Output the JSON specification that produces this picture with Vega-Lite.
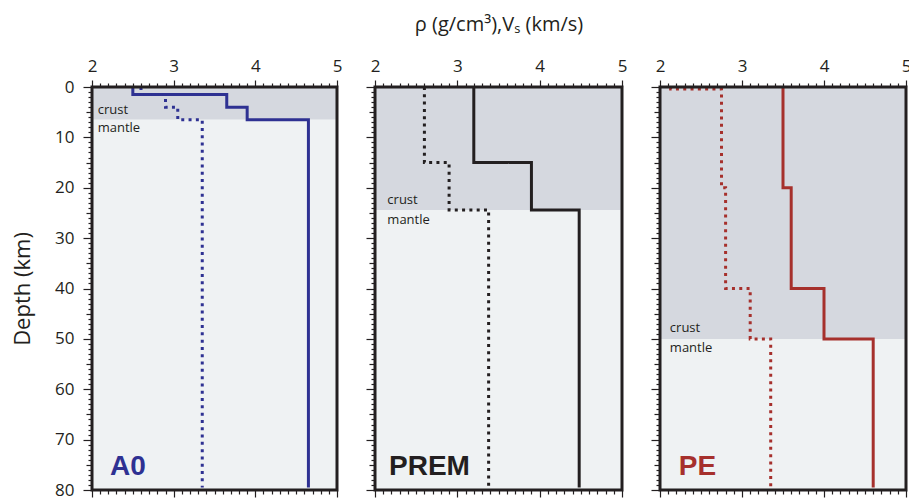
{
  "$schema": "https://vega.github.io/schema/vega-lite/v6.json",
  "background": "white",
  "padding": {"left": 11, "top": 14, "right": 0, "bottom": 8},
  "spacing": 38,
  "bounds": "flush",
  "config": {
    "view": {"stroke": null},
    "axis": {"labelFont": "Open Sans", "titleFont": "Open Sans", "labelColor": "#231f20", "titleColor": "#231f20", "tickColor": "#231f20", "domain": false, "grid": false, "titleFontWeight": "normal"},
    "text": {"font": "Open Sans", "color": "#231f20"}
  },
  "datasets": {
    "bands": [
      {"panel": "A0", "zone": "crust", "top": 0, "bottom": 6.5},
      {"panel": "A0", "zone": "mantle", "top": 6.5, "bottom": 80},
      {"panel": "PREM", "zone": "crust", "top": 0, "bottom": 24.4},
      {"panel": "PREM", "zone": "mantle", "top": 24.4, "bottom": 80},
      {"panel": "PE", "zone": "crust", "top": 0, "bottom": 50},
      {"panel": "PE", "zone": "mantle", "top": 50, "bottom": 80}
    ],
    "frame": [{"box": "frame"}],
    "profiles": [
      {"panel": "A0", "param": "Vs", "i": 0, "v": 2.5, "depth": 0},
      {"panel": "A0", "param": "Vs", "i": 1, "v": 2.5, "depth": 1.5},
      {"panel": "A0", "param": "Vs", "i": 2, "v": 3.65, "depth": 1.5},
      {"panel": "A0", "param": "Vs", "i": 3, "v": 3.65, "depth": 4},
      {"panel": "A0", "param": "Vs", "i": 4, "v": 3.9, "depth": 4},
      {"panel": "A0", "param": "Vs", "i": 5, "v": 3.9, "depth": 6.5},
      {"panel": "A0", "param": "Vs", "i": 6, "v": 4.65, "depth": 6.5},
      {"panel": "A0", "param": "Vs", "i": 7, "v": 4.65, "depth": 79.5},
      {"panel": "A0", "param": "rho", "i": 0, "v": 2.6, "depth": 0},
      {"panel": "A0", "param": "rho", "i": 1, "v": 2.6, "depth": 1.5},
      {"panel": "A0", "param": "rho", "i": 2, "v": 2.9, "depth": 1.5},
      {"panel": "A0", "param": "rho", "i": 3, "v": 2.9, "depth": 4},
      {"panel": "A0", "param": "rho", "i": 4, "v": 3.05, "depth": 4},
      {"panel": "A0", "param": "rho", "i": 5, "v": 3.05, "depth": 6.5},
      {"panel": "A0", "param": "rho", "i": 6, "v": 3.35, "depth": 6.5},
      {"panel": "A0", "param": "rho", "i": 7, "v": 3.35, "depth": 79.5},
      {"panel": "PREM", "param": "Vs", "i": 0, "v": 3.2, "depth": 0},
      {"panel": "PREM", "param": "Vs", "i": 1, "v": 3.2, "depth": 15},
      {"panel": "PREM", "param": "Vs", "i": 2, "v": 3.9, "depth": 15},
      {"panel": "PREM", "param": "Vs", "i": 3, "v": 3.9, "depth": 24.4},
      {"panel": "PREM", "param": "Vs", "i": 4, "v": 4.48, "depth": 24.4},
      {"panel": "PREM", "param": "Vs", "i": 5, "v": 4.48, "depth": 79.5},
      {"panel": "PREM", "param": "rho", "i": 0, "v": 2.6, "depth": 0},
      {"panel": "PREM", "param": "rho", "i": 1, "v": 2.6, "depth": 15},
      {"panel": "PREM", "param": "rho", "i": 2, "v": 2.9, "depth": 15},
      {"panel": "PREM", "param": "rho", "i": 3, "v": 2.9, "depth": 24.4},
      {"panel": "PREM", "param": "rho", "i": 4, "v": 3.38, "depth": 24.4},
      {"panel": "PREM", "param": "rho", "i": 5, "v": 3.38, "depth": 79.5},
      {"panel": "PE", "param": "Vs", "i": 0, "v": 3.5, "depth": 0},
      {"panel": "PE", "param": "Vs", "i": 1, "v": 3.5, "depth": 20},
      {"panel": "PE", "param": "Vs", "i": 2, "v": 3.6, "depth": 20},
      {"panel": "PE", "param": "Vs", "i": 3, "v": 3.6, "depth": 40},
      {"panel": "PE", "param": "Vs", "i": 4, "v": 4.0, "depth": 40},
      {"panel": "PE", "param": "Vs", "i": 5, "v": 4.0, "depth": 50},
      {"panel": "PE", "param": "Vs", "i": 6, "v": 4.6, "depth": 50},
      {"panel": "PE", "param": "Vs", "i": 7, "v": 4.6, "depth": 79.5},
      {"panel": "PE", "param": "rho", "i": 0, "v": 2.13, "depth": 0},
      {"panel": "PE", "param": "rho", "i": 1, "v": 2.13, "depth": 0.4},
      {"panel": "PE", "param": "rho", "i": 2, "v": 2.75, "depth": 0.4},
      {"panel": "PE", "param": "rho", "i": 3, "v": 2.75, "depth": 20},
      {"panel": "PE", "param": "rho", "i": 4, "v": 2.8, "depth": 20},
      {"panel": "PE", "param": "rho", "i": 5, "v": 2.8, "depth": 40},
      {"panel": "PE", "param": "rho", "i": 6, "v": 3.1, "depth": 40},
      {"panel": "PE", "param": "rho", "i": 7, "v": 3.1, "depth": 50},
      {"panel": "PE", "param": "rho", "i": 8, "v": 3.35, "depth": 50},
      {"panel": "PE", "param": "rho", "i": 9, "v": 3.35, "depth": 79.5}
    ],
    "labels": [
      {"panel": "A0", "kind": "zone", "text": "crust", "v": 2.07, "depth": 5.3},
      {"panel": "A0", "kind": "zone", "text": "mantle", "v": 2.07, "depth": 8.9},
      {"panel": "A0", "kind": "name", "text": "A0", "v": 2.22, "depth": 77},
      {"panel": "PREM", "kind": "zone", "text": "crust", "v": 2.15, "depth": 23.3},
      {"panel": "PREM", "kind": "zone", "text": "mantle", "v": 2.15, "depth": 27.2},
      {"panel": "PREM", "kind": "name", "text": "PREM", "v": 2.17, "depth": 77},
      {"panel": "PE", "kind": "zone", "text": "crust", "v": 2.12, "depth": 48.6},
      {"panel": "PE", "kind": "zone", "text": "mantle", "v": 2.12, "depth": 52.6},
      {"panel": "PE", "kind": "name", "text": "PE", "v": 2.23, "depth": 77}
    ]
  },
  "hconcat": [
    {
      "width": 245, "height": 403,
      "resolve": {"axis": {"x": "independent", "y": "independent"}},
      "layer": [
        {
          "data": {"name": "bands"},
          "transform": [{"filter": "datum.panel === 'A0'"}],
          "mark": {"type": "rect"},
          "encoding": {
            "x": {"datum": 2, "type": "quantitative", "scale": {"domain": [2, 5]}, "axis": {"orient": "top", "values": [2,2.1,2.2,2.3,2.4,2.5,2.6,2.7,2.8,2.9,3,3.1,3.2,3.3,3.4,3.5,3.6,3.7,3.8,3.9,4,4.1,4.2,4.3,4.4,4.5,4.6,4.7,4.8,4.9,5], "labelExpr": "datum.value % 1 === 0 ? format(datum.value, 'd') : ''", "labelFlush": false, "labelOverlap": false, "labelFontSize": 17, "labelPadding": 5, "tickSize": {"condition": {"test": "datum.value % 1 === 0", "value": 7}, "value": 4}, "tickWidth": 1.2, "title": null}},
            "x2": {"datum": 5},
            "y": {"field": "top", "type": "quantitative", "scale": {"domain": [0, 80], "reverse": true}, "axis": {"orient": "left", "values": [0,1,2,3,4,5,6,7,8,9,10,11,12,13,14,15,16,17,18,19,20,21,22,23,24,25,26,27,28,29,30,31,32,33,34,35,36,37,38,39,40,41,42,43,44,45,46,47,48,49,50,51,52,53,54,55,56,57,58,59,60,61,62,63,64,65,66,67,68,69,70,71,72,73,74,75,76,77,78,79,80], "labelExpr": "datum.value % 10 === 0 ? format(datum.value, 'd') : ''", "labelOverlap": false, "labelFlush": false, "labelFontSize": 17, "labelPadding": 9, "tickSize": {"expr": "datum.value % 10 === 0 ? 9 : (datum.value % 5 === 0 ? 6 : 4)"}, "tickWidth": 1.2, "title": "Depth (km)", "titleFontSize": 22, "titlePadding": 20}},
            "y2": {"field": "bottom"},
            "fill": {"field": "zone", "type": "nominal", "scale": {"domain": ["crust", "mantle"], "range": ["#d5d8df", "#eff2f3"]}, "legend": null}
          }
        },
        {
          "data": {"name": "profiles"},
          "transform": [{"filter": "datum.panel === 'A0'"}],
          "mark": {"type": "line", "stroke": "#2e3192", "strokeWidth": 3, "strokeJoin": "miter", "strokeCap": "butt"},
          "encoding": {
            "x": {"field": "v", "type": "quantitative", "scale": {"domain": [2, 5]}, "axis": {"orient": "bottom", "values": [2,2.1,2.2,2.3,2.4,2.5,2.6,2.7,2.8,2.9,3,3.1,3.2,3.3,3.4,3.5,3.6,3.7,3.8,3.9,4,4.1,4.2,4.3,4.4,4.5,4.6,4.7,4.8,4.9,5], "labels": false, "tickSize": {"condition": {"test": "datum.value % 1 === 0", "value": 7}, "value": 4}, "tickWidth": 1.2, "title": null}},
            "y": {"field": "depth", "type": "quantitative", "scale": {"domain": [0, 80], "reverse": true}, "axis": null},
            "order": {"field": "i", "type": "quantitative"},
            "strokeDash": {"field": "param", "type": "nominal", "scale": {"domain": ["Vs", "rho"], "range": [[1, 0], [3, 4.3]]}, "legend": null}
          }
        },
        {
          "data": {"name": "labels"},
          "transform": [{"filter": "datum.panel === 'A0' && datum.kind === 'zone'"}],
          "mark": {"type": "text", "align": "left", "baseline": "alphabetic", "fontSize": 13, "color": "#231f20"},
          "encoding": {
            "x": {"field": "v", "type": "quantitative", "axis": null},
            "y": {"field": "depth", "type": "quantitative", "axis": null},
            "text": {"field": "text"}
          }
        },
        {
          "data": {"name": "labels"},
          "transform": [{"filter": "datum.panel === 'A0' && datum.kind === 'name'"}],
          "mark": {"type": "text", "align": "left", "baseline": "alphabetic", "fontSize": 28, "fontWeight": "bold", "font": "Liberation Sans", "color": "#2e3192"},
          "encoding": {
            "x": {"field": "v", "type": "quantitative", "axis": null},
            "y": {"field": "depth", "type": "quantitative", "axis": null},
            "text": {"field": "text"}
          }
        },
        {
          "data": {"name": "frame"},
          "mark": {"type": "rect", "fill": null, "stroke": "#231f20", "strokeWidth": 3},
          "encoding": {
            "x": {"datum": 2, "type": "quantitative", "axis": null},
            "x2": {"datum": 5},
            "y": {"datum": 0, "type": "quantitative", "axis": null},
            "y2": {"datum": 80}
          }
        }
      ]
    },
    {
      "width": 247, "height": 403,
      "resolve": {"axis": {"x": "independent", "y": "independent"}},
      "layer": [
        {
          "data": {"name": "bands"},
          "transform": [{"filter": "datum.panel === 'PREM'"}],
          "mark": {"type": "rect"},
          "encoding": {
            "x": {"datum": 2, "type": "quantitative", "scale": {"domain": [2, 5]}, "axis": {"orient": "top", "values": [2,2.1,2.2,2.3,2.4,2.5,2.6,2.7,2.8,2.9,3,3.1,3.2,3.3,3.4,3.5,3.6,3.7,3.8,3.9,4,4.1,4.2,4.3,4.4,4.5,4.6,4.7,4.8,4.9,5], "labelExpr": "datum.value % 1 === 0 ? format(datum.value, 'd') : ''", "labelFlush": false, "labelOverlap": false, "labelFontSize": 17, "labelPadding": 5, "tickSize": {"condition": {"test": "datum.value % 1 === 0", "value": 7}, "value": 4}, "tickWidth": 1.2, "title": "ρ (g/cm³),Vₛ (km/s)", "titleFontSize": 20, "titlePadding": 23}},
            "x2": {"datum": 5},
            "y": {"field": "top", "type": "quantitative", "scale": {"domain": [0, 80], "reverse": true}, "axis": {"orient": "left", "values": [0,1,2,3,4,5,6,7,8,9,10,11,12,13,14,15,16,17,18,19,20,21,22,23,24,25,26,27,28,29,30,31,32,33,34,35,36,37,38,39,40,41,42,43,44,45,46,47,48,49,50,51,52,53,54,55,56,57,58,59,60,61,62,63,64,65,66,67,68,69,70,71,72,73,74,75,76,77,78,79,80], "labels": false, "tickSize": {"expr": "datum.value % 10 === 0 ? 9 : (datum.value % 5 === 0 ? 6 : 4)"}, "tickWidth": 1.2, "title": null}},
            "y2": {"field": "bottom"},
            "fill": {"field": "zone", "type": "nominal", "scale": {"domain": ["crust", "mantle"], "range": ["#d5d8df", "#eff2f3"]}, "legend": null}
          }
        },
        {
          "data": {"name": "profiles"},
          "transform": [{"filter": "datum.panel === 'PREM'"}],
          "mark": {"type": "line", "stroke": "#231f20", "strokeWidth": 3, "strokeJoin": "miter", "strokeCap": "butt"},
          "encoding": {
            "x": {"field": "v", "type": "quantitative", "scale": {"domain": [2, 5]}, "axis": {"orient": "bottom", "values": [2,2.1,2.2,2.3,2.4,2.5,2.6,2.7,2.8,2.9,3,3.1,3.2,3.3,3.4,3.5,3.6,3.7,3.8,3.9,4,4.1,4.2,4.3,4.4,4.5,4.6,4.7,4.8,4.9,5], "labels": false, "tickSize": {"condition": {"test": "datum.value % 1 === 0", "value": 7}, "value": 4}, "tickWidth": 1.2, "title": null}},
            "y": {"field": "depth", "type": "quantitative", "scale": {"domain": [0, 80], "reverse": true}, "axis": null},
            "order": {"field": "i", "type": "quantitative"},
            "strokeDash": {"field": "param", "type": "nominal", "scale": {"domain": ["Vs", "rho"], "range": [[1, 0], [3, 4.3]]}, "legend": null}
          }
        },
        {
          "data": {"name": "labels"},
          "transform": [{"filter": "datum.panel === 'PREM' && datum.kind === 'zone'"}],
          "mark": {"type": "text", "align": "left", "baseline": "alphabetic", "fontSize": 13, "color": "#231f20"},
          "encoding": {
            "x": {"field": "v", "type": "quantitative", "axis": null},
            "y": {"field": "depth", "type": "quantitative", "axis": null},
            "text": {"field": "text"}
          }
        },
        {
          "data": {"name": "labels"},
          "transform": [{"filter": "datum.panel === 'PREM' && datum.kind === 'name'"}],
          "mark": {"type": "text", "align": "left", "baseline": "alphabetic", "fontSize": 28, "fontWeight": "bold", "font": "Liberation Sans", "color": "#231f20"},
          "encoding": {
            "x": {"field": "v", "type": "quantitative", "axis": null},
            "y": {"field": "depth", "type": "quantitative", "axis": null},
            "text": {"field": "text"}
          }
        },
        {
          "data": {"name": "frame"},
          "mark": {"type": "rect", "fill": null, "stroke": "#231f20", "strokeWidth": 3},
          "encoding": {
            "x": {"datum": 2, "type": "quantitative", "axis": null},
            "x2": {"datum": 5},
            "y": {"datum": 0, "type": "quantitative", "axis": null},
            "y2": {"datum": 80}
          }
        }
      ]
    },
    {
      "width": 246, "height": 403,
      "resolve": {"axis": {"x": "independent", "y": "independent"}},
      "layer": [
        {
          "data": {"name": "bands"},
          "transform": [{"filter": "datum.panel === 'PE'"}],
          "mark": {"type": "rect"},
          "encoding": {
            "x": {"datum": 2, "type": "quantitative", "scale": {"domain": [2, 5]}, "axis": {"orient": "top", "values": [2,2.1,2.2,2.3,2.4,2.5,2.6,2.7,2.8,2.9,3,3.1,3.2,3.3,3.4,3.5,3.6,3.7,3.8,3.9,4,4.1,4.2,4.3,4.4,4.5,4.6,4.7,4.8,4.9,5], "labelExpr": "datum.value % 1 === 0 ? format(datum.value, 'd') : ''", "labelFlush": false, "labelOverlap": false, "labelFontSize": 17, "labelPadding": 5, "tickSize": {"condition": {"test": "datum.value % 1 === 0", "value": 7}, "value": 4}, "tickWidth": 1.2, "title": null}},
            "x2": {"datum": 5},
            "y": {"field": "top", "type": "quantitative", "scale": {"domain": [0, 80], "reverse": true}, "axis": {"orient": "left", "values": [0,1,2,3,4,5,6,7,8,9,10,11,12,13,14,15,16,17,18,19,20,21,22,23,24,25,26,27,28,29,30,31,32,33,34,35,36,37,38,39,40,41,42,43,44,45,46,47,48,49,50,51,52,53,54,55,56,57,58,59,60,61,62,63,64,65,66,67,68,69,70,71,72,73,74,75,76,77,78,79,80], "labels": false, "tickSize": {"expr": "datum.value % 10 === 0 ? 9 : (datum.value % 5 === 0 ? 6 : 4)"}, "tickWidth": 1.2, "title": null}},
            "y2": {"field": "bottom"},
            "fill": {"field": "zone", "type": "nominal", "scale": {"domain": ["crust", "mantle"], "range": ["#d5d8df", "#eff2f3"]}, "legend": null}
          }
        },
        {
          "data": {"name": "profiles"},
          "transform": [{"filter": "datum.panel === 'PE'"}],
          "mark": {"type": "line", "stroke": "#a6302c", "strokeWidth": 3, "strokeJoin": "miter", "strokeCap": "butt"},
          "encoding": {
            "x": {"field": "v", "type": "quantitative", "scale": {"domain": [2, 5]}, "axis": {"orient": "bottom", "values": [2,2.1,2.2,2.3,2.4,2.5,2.6,2.7,2.8,2.9,3,3.1,3.2,3.3,3.4,3.5,3.6,3.7,3.8,3.9,4,4.1,4.2,4.3,4.4,4.5,4.6,4.7,4.8,4.9,5], "labels": false, "tickSize": {"condition": {"test": "datum.value % 1 === 0", "value": 7}, "value": 4}, "tickWidth": 1.2, "title": null}},
            "y": {"field": "depth", "type": "quantitative", "scale": {"domain": [0, 80], "reverse": true}, "axis": null},
            "order": {"field": "i", "type": "quantitative"},
            "strokeDash": {"field": "param", "type": "nominal", "scale": {"domain": ["Vs", "rho"], "range": [[1, 0], [3, 4.3]]}, "legend": null}
          }
        },
        {
          "data": {"name": "labels"},
          "transform": [{"filter": "datum.panel === 'PE' && datum.kind === 'zone'"}],
          "mark": {"type": "text", "align": "left", "baseline": "alphabetic", "fontSize": 13, "color": "#231f20"},
          "encoding": {
            "x": {"field": "v", "type": "quantitative", "axis": null},
            "y": {"field": "depth", "type": "quantitative", "axis": null},
            "text": {"field": "text"}
          }
        },
        {
          "data": {"name": "labels"},
          "transform": [{"filter": "datum.panel === 'PE' && datum.kind === 'name'"}],
          "mark": {"type": "text", "align": "left", "baseline": "alphabetic", "fontSize": 28, "fontWeight": "bold", "font": "Liberation Sans", "color": "#a6302c"},
          "encoding": {
            "x": {"field": "v", "type": "quantitative", "axis": null},
            "y": {"field": "depth", "type": "quantitative", "axis": null},
            "text": {"field": "text"}
          }
        },
        {
          "data": {"name": "frame"},
          "mark": {"type": "rect", "fill": null, "stroke": "#231f20", "strokeWidth": 3},
          "encoding": {
            "x": {"datum": 2, "type": "quantitative", "axis": null},
            "x2": {"datum": 5},
            "y": {"datum": 0, "type": "quantitative", "axis": null},
            "y2": {"datum": 80}
          }
        }
      ]
    }
  ]
}
